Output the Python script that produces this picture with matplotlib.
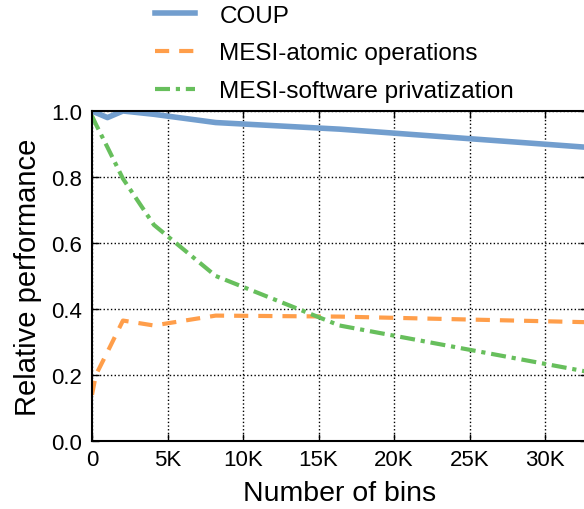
import matplotlib
matplotlib.use("Agg")
import matplotlib.pyplot as plt
from matplotlib.ticker import FixedLocator

plt.rcParams['font.family'] = ['Liberation Sans', 'DejaVu Sans']

# number of bins (powers of two) and relative performance
bins = [1, 256, 1024, 2048, 4096, 8192, 16384, 32768]
coup = [1.0, 0.995, 0.98, 1.0, 0.99, 0.965, 0.945, 0.89]
mesi_atomic = [0.14, 0.20, 0.27, 0.365, 0.35, 0.38, 0.377, 0.36]
mesi_priv = [0.985, 0.96, 0.89, 0.795, 0.655, 0.50, 0.35, 0.21]

xticks = [0, 5000, 10000, 15000, 20000, 25000, 30000]
xticklabels = ['0', '5K', '10K', '15K', '20K', '25K', '30K']
yticks = [0.0, 0.2, 0.4, 0.6, 0.8, 1.0]

fig = plt.figure(figsize=(5.84, 5.10), dpi=100)
ax = fig.add_axes([92/584, 68/510, 495/584, 330/510])

l1, = ax.plot(bins, coup, color='#729ECE', lw=4, label='COUP')
l2, = ax.plot(bins, mesi_atomic, color='#FF9E4A', lw=3, dashes=(3.4, 2.4),
              label='MESI-atomic operations')
l3, = ax.plot(bins, mesi_priv, color='#67BF5C', lw=3, dashes=(3.6, 1.4, 1, 1.4),
              label='MESI-software privatization')

ax.set_xlim(0, 32768)
ax.set_ylim(0, 1.0)
ax.xaxis.set_major_locator(FixedLocator(xticks))
ax.set_xticklabels(xticklabels)
ax.set_yticks(yticks)
ax.set_yticklabels(['%.1f' % v for v in yticks])
ax.tick_params(direction='in', length=5, width=1, labelsize=16,
               top=True, right=True)
ax.tick_params(axis='y', pad=7)
ax.tick_params(axis='x', pad=6)
ax.grid(True, linestyle=':', color='black', linewidth=1)
for s in ax.spines.values():
    s.set_linewidth(1.5)

ax.set_xlabel('Number of bins', fontsize=20.5, labelpad=7)
ax.set_ylabel('Relative performance', fontsize=21, labelpad=7)

fig.legend(handles=[l1, l2, l3], loc='upper left', bbox_to_anchor=(133/584, 1.0 + 16/510),
           frameon=False, fontsize=17.5, handlelength=1.65, labelspacing=0.64,
           handletextpad=1.0)

fig.savefig('out.png', dpi=100)
